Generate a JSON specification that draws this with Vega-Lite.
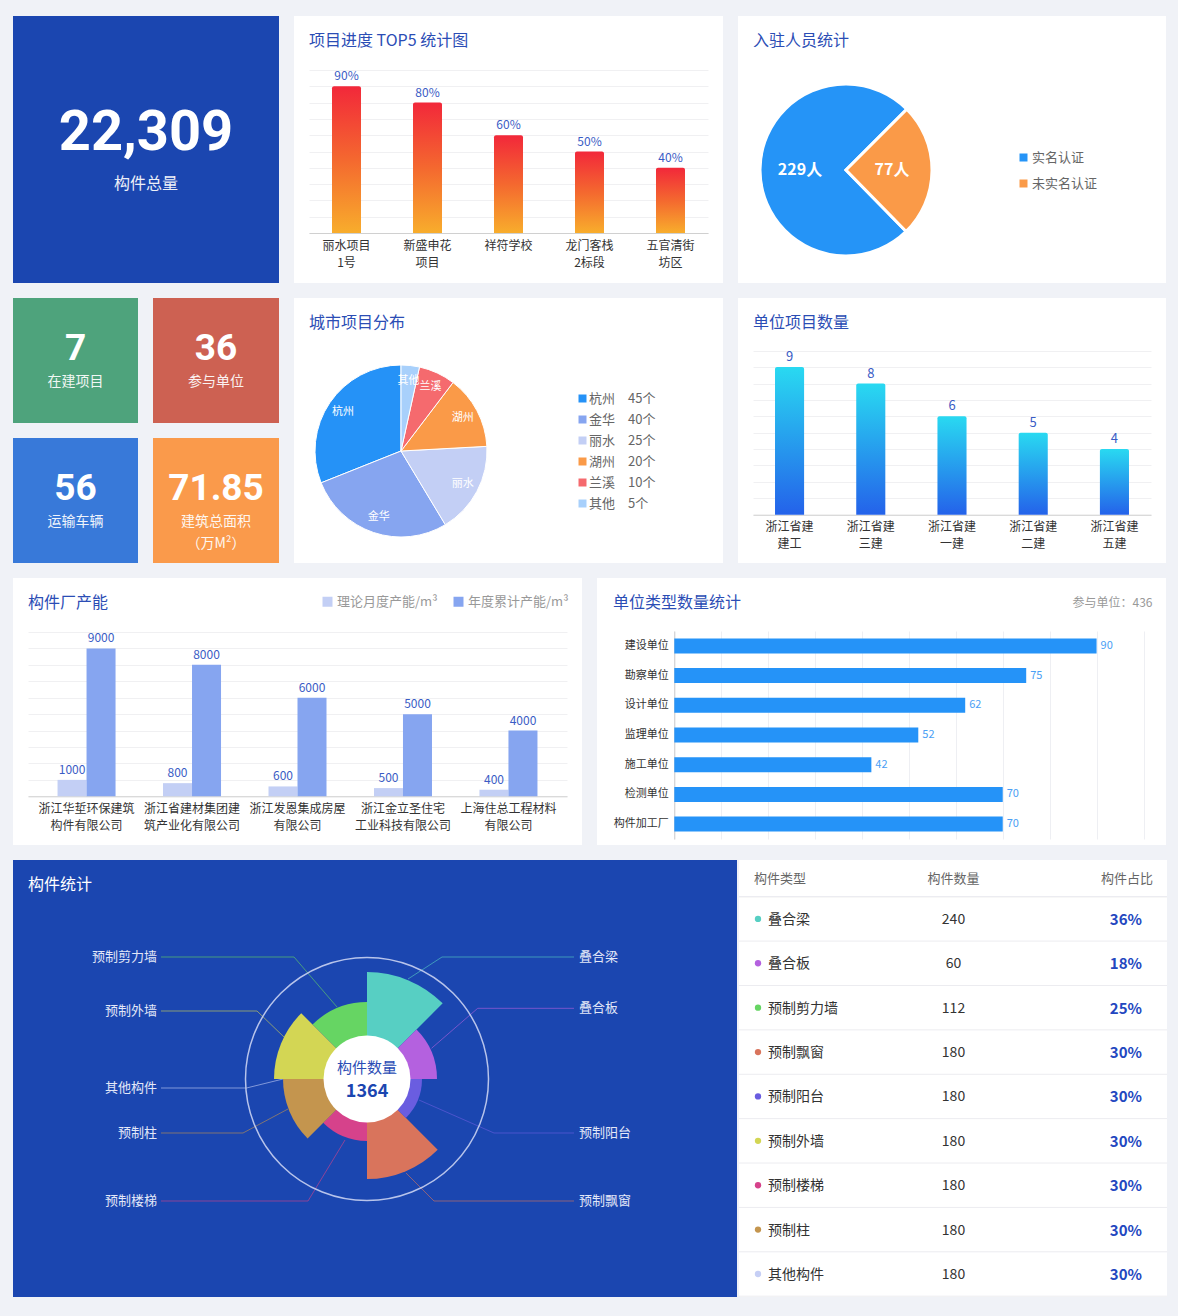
{
"$schema": "https://vega.github.io/schema/vega-lite/v6.json",
"background": "#f0f2f7",
"padding": {"left": 13, "top": 16, "right": 12, "bottom": 19},
"config": {
  "font": "Noto Sans CJK SC",
  "view": {"stroke": null},
  "title": {"anchor": "start", "frame": "group", "fontSize": 16, "fontWeight": "normal", "color": "#2b4db5", "dx": 15, "offset": -33}
},
"datasets": {
  "parts": [
    {"type": "叠合梁", "count": 240, "pct": 0.36, "rose": 107, "span": 1, "roseSeq": 1},
    {"type": "叠合板", "count": 60, "pct": 0.18, "rose": 70, "span": 1, "roseSeq": 2},
    {"type": "预制剪力墙", "count": 112, "pct": 0.25, "rose": 77, "span": 1, "roseSeq": 9},
    {"type": "预制飘窗", "count": 180, "pct": 0.30, "rose": 100, "span": 1, "roseSeq": 4},
    {"type": "预制阳台", "count": 180, "pct": 0.30, "rose": 55, "span": 1, "roseSeq": 3},
    {"type": "预制外墙", "count": 180, "pct": 0.30, "rose": 93, "span": 1, "roseSeq": 8},
    {"type": "预制楼梯", "count": 180, "pct": 0.30, "rose": 62, "span": 1, "roseSeq": 5},
    {"type": "预制柱", "count": 180, "pct": 0.30, "rose": 84, "span": 1, "roseSeq": 6},
    {"type": "其他构件", "count": 180, "pct": 0.30, "rose": 40, "span": 0, "roseSeq": 7}
  ],
  "leaders": [
    {"type": "叠合梁", "step": 1, "x": 41, "y": 100},
    {"type": "叠合梁", "step": 2, "x": 75, "y": 122},
    {"type": "叠合梁", "step": 3, "x": 207, "y": 122},
    {"type": "叠合板", "step": 1, "x": 64.5, "y": 30.7},
    {"type": "叠合板", "step": 2, "x": 110.7, "y": 70.7},
    {"type": "叠合板", "step": 3, "x": 207, "y": 70.7},
    {"type": "预制阳台", "step": 1, "x": 52, "y": -21},
    {"type": "预制阳台", "step": 2, "x": 127, "y": -54},
    {"type": "预制阳台", "step": 3, "x": 207, "y": -54},
    {"type": "预制飘窗", "step": 1, "x": 39, "y": -94},
    {"type": "预制飘窗", "step": 2, "x": 67, "y": -122},
    {"type": "预制飘窗", "step": 3, "x": 207, "y": -122},
    {"type": "预制楼梯", "step": 1, "x": -22, "y": -61},
    {"type": "预制楼梯", "step": 2, "x": -59, "y": -122},
    {"type": "预制楼梯", "step": 3, "x": -206, "y": -122},
    {"type": "预制柱", "step": 1, "x": -79, "y": -30},
    {"type": "预制柱", "step": 2, "x": -124, "y": -54},
    {"type": "预制柱", "step": 3, "x": -206, "y": -54},
    {"type": "其他构件", "step": 1, "x": -84, "y": 0},
    {"type": "其他构件", "step": 2, "x": -120.5, "y": -9},
    {"type": "其他构件", "step": 3, "x": -206, "y": -9},
    {"type": "预制外墙", "step": 1, "x": -82, "y": 41},
    {"type": "预制外墙", "step": 2, "x": -110, "y": 68},
    {"type": "预制外墙", "step": 3, "x": -206, "y": 68},
    {"type": "预制剪力墙", "step": 1, "x": -30, "y": 72},
    {"type": "预制剪力墙", "step": 2, "x": -73, "y": 122},
    {"type": "预制剪力墙", "step": 3, "x": -206, "y": 122}
  ]
},
"spacing": 15,
"resolve": {"scale": {"color": "independent"}, "legend": {"color": "independent"}},
"vconcat": [
  {
    "spacing": 15,
    "resolve": {"scale": {"color": "independent"}, "legend": {"color": "independent"}},
    "hconcat": [
      {
        "width": 266, "height": 267,
        "view": {"fill": "#1b46b0", "stroke": null},
        "data": {"values": [{"kpi": "构件总量", "value": 22309}]},
        "layer": [
          {"mark": {"type": "text", "font": "Roboto", "fontSize": 56, "fontWeight": "bold", "color": "#ffffff", "dy": -16.5},
           "encoding": {"text": {"field": "value", "type": "quantitative", "format": ","}}},
          {"mark": {"type": "text", "fontSize": 16, "color": "#ffffff", "opacity": 0.92, "dy": 34},
           "encoding": {"text": {"field": "kpi", "type": "nominal"}}}
        ]
      },
      {
        "width": 429, "height": 267,
        "view": {"fill": "#ffffff", "stroke": null},
        "title": {"text": "项目进度 TOP5 统计图"},
        "data": {"values": [
          {"project": "丽水项目\n1号", "progress": 0.9},
          {"project": "新盛申花\n项目", "progress": 0.8},
          {"project": "祥符学校", "progress": 0.6},
          {"project": "龙门客栈\n2标段", "progress": 0.5},
          {"project": "五官清街\n坊区", "progress": 0.4}
        ]},
        "encoding": {
          "x": {"field": "project", "type": "nominal", "sort": null,
            "scale": {"range": [15, 414], "paddingInner": 0.642, "paddingOuter": 0.284},
            "axis": {"title": null, "labelAngle": 0, "offset": -50, "ticks": false, "domainColor": "#d0d0d0", "labelPadding": 7, "labelFontSize": 12, "labelColor": "#333333", "labelLineHeight": 17, "labelBaseline": "top", "labelExpr": "split(datum.label, '\\n')", "grid": false}},
          "y": {"field": "progress", "type": "quantitative",
            "scale": {"domain": [0, 1], "range": [217, 54], "nice": false, "zero": false},
            "axis": {"title": null, "labels": false, "ticks": false, "domain": false, "values": [0, 0.1, 0.2, 0.3, 0.4, 0.5, 0.6, 0.7, 0.8, 0.9, 1], "gridColor": "#f0f0f2"}}
        },
        "layer": [
          {"mark": {"type": "bar", "cornerRadiusTopLeft": 2, "cornerRadiusTopRight": 2,
            "color": {"gradient": "linear", "x1": 0, "y1": 0, "x2": 0, "y2": 1, "stops": [{"offset": 0, "color": "#f2283a"}, {"offset": 0.5, "color": "#f4682f"}, {"offset": 1, "color": "#f8ad2c"}]}},
           "encoding": {"y2": {"datum": 0}}},
          {"mark": {"type": "text", "baseline": "bottom", "dy": -3, "fontSize": 12, "color": "#3a5cc5"},
           "encoding": {"text": {"field": "progress", "type": "quantitative", "format": ".0%"}}}
        ]
      },
      {
        "width": 428, "height": 267,
        "view": {"fill": "#ffffff", "stroke": null},
        "title": {"text": "入驻人员统计"},
        "data": {"values": [
          {"status": "实名认证", "count": 229},
          {"status": "未实名认证", "count": 77}
        ]},
        "encoding": {
          "x": {"datum": 0, "type": "quantitative", "scale": {"domain": [-108, 320], "nice": false, "zero": false}, "axis": null},
          "y": {"datum": 0, "type": "quantitative", "scale": {"domain": [-113, 154], "nice": false, "zero": false}, "axis": null},
          "theta": {"field": "count", "type": "quantitative", "stack": true, "scale": {"range": [0.7854, 7.0686]}},
          "order": {"field": "count", "type": "quantitative", "sort": "ascending"}
        },
        "layer": [
          {"mark": {"type": "arc", "radius": 86, "stroke": "#ffffff", "strokeWidth": 3},
           "encoding": {"color": {"field": "status", "type": "nominal",
             "scale": {"domain": ["实名认证", "未实名认证"], "range": ["#2594f7", "#fa9a48"]},
             "legend": {"title": null, "orient": "none", "legendX": 279, "legendY": 135, "symbolType": "square", "symbolSize": 64, "symbolStrokeWidth": 0, "labelFontSize": 13, "labelColor": "#666666", "labelOffset": 2, "rowPadding": 12}}}},
          {"mark": {"type": "text", "radius": 46, "fontSize": 16, "fontWeight": "bold", "color": "#ffffff", "text": {"expr": "datum.count + '人'"}}}
        ]
      }
    ]
  },
  {
    "spacing": 15,
    "resolve": {"scale": {"color": "independent"}, "legend": {"color": "independent"}},
    "hconcat": [
      {
        "spacing": 15,
        "vconcat": [
          {
            "spacing": 15,
            "hconcat": [
              {
                "width": 125, "height": 125,
                "view": {"fill": "#4ea37c", "stroke": null},
                "data": {"values": [{"kpi": "在建项目", "value": 7}]},
                "layer": [
                  {"mark": {"type": "text", "font": "Roboto", "fontSize": 37, "fontWeight": "bold", "color": "#ffffff", "dy": -11.5},
                   "encoding": {"text": {"field": "value", "type": "nominal"}}},
                  {"mark": {"type": "text", "fontSize": 14, "color": "#ffffff", "opacity": 0.92, "dy": 21.5},
                   "encoding": {"text": {"field": "kpi", "type": "nominal"}}}
                ]
              },
              {
                "width": 126, "height": 125,
                "view": {"fill": "#cd6152", "stroke": null},
                "data": {"values": [{"kpi": "参与单位", "value": 36}]},
                "layer": [
                  {"mark": {"type": "text", "font": "Roboto", "fontSize": 37, "fontWeight": "bold", "color": "#ffffff", "dy": -11.5},
                   "encoding": {"text": {"field": "value", "type": "nominal"}}},
                  {"mark": {"type": "text", "fontSize": 14, "color": "#ffffff", "opacity": 0.92, "dy": 21.5},
                   "encoding": {"text": {"field": "kpi", "type": "nominal"}}}
                ]
              }
            ]
          },
          {
            "spacing": 15,
            "hconcat": [
              {
                "width": 125, "height": 125,
                "view": {"fill": "#3879d9", "stroke": null},
                "data": {"values": [{"kpi": "运输车辆", "value": 56}]},
                "layer": [
                  {"mark": {"type": "text", "font": "Roboto", "fontSize": 37, "fontWeight": "bold", "color": "#ffffff", "dy": -11.5},
                   "encoding": {"text": {"field": "value", "type": "nominal"}}},
                  {"mark": {"type": "text", "fontSize": 14, "color": "#ffffff", "opacity": 0.92, "dy": 21.5},
                   "encoding": {"text": {"field": "kpi", "type": "nominal"}}}
                ]
              },
              {
                "width": 126, "height": 125,
                "view": {"fill": "#fa9a4b", "stroke": null},
                "data": {"values": [{"kpi": "建筑总面积", "unit": "（万M²）", "value": 71.85}]},
                "layer": [
                  {"mark": {"type": "text", "font": "Roboto", "fontSize": 37, "fontWeight": "bold", "color": "#ffffff", "dy": -11.5},
                   "encoding": {"text": {"field": "value", "type": "nominal"}}},
                  {"mark": {"type": "text", "fontSize": 14, "color": "#ffffff", "opacity": 0.92, "dy": 21.5},
                   "encoding": {"text": {"field": "kpi", "type": "nominal"}}},
                  {"mark": {"type": "text", "fontSize": 14, "color": "#ffffff", "opacity": 0.92, "dy": 43.5},
                   "encoding": {"text": {"field": "unit", "type": "nominal"}}}
                ]
              }
            ]
          }
        ]
      },
      {
        "width": 429, "height": 265,
        "view": {"fill": "#ffffff", "stroke": null},
        "title": {"text": "城市项目分布"},
        "data": {"values": [
          {"city": "杭州", "count": 45},
          {"city": "金华", "count": 40},
          {"city": "丽水", "count": 25},
          {"city": "湖州", "count": 20},
          {"city": "兰溪", "count": 10},
          {"city": "其他", "count": 5}
        ]},
        "encoding": {
          "x": {"datum": 0, "type": "quantitative", "scale": {"domain": [-107, 322], "nice": false, "zero": false}, "axis": null},
          "y": {"datum": 0, "type": "quantitative", "scale": {"domain": [-112, 153], "nice": false, "zero": false}, "axis": null},
          "theta": {"field": "count", "type": "quantitative", "stack": true},
          "order": {"field": "count", "type": "quantitative", "sort": "ascending"}
        },
        "layer": [
          {"mark": {"type": "arc", "radius": 86, "stroke": "#ffffff", "strokeWidth": 1},
           "encoding": {"color": {"field": "city", "type": "nominal",
             "scale": {"domain": ["杭州", "金华", "丽水", "湖州", "兰溪", "其他"], "range": ["#2592f7", "#86a5f0", "#c3cff5", "#fa9a48", "#f56a6e", "#a8d0fb"]},
             "legend": {"title": null, "orient": "none", "legendX": 282, "legendY": 94, "symbolType": "square", "symbolSize": 64, "symbolStrokeWidth": 0, "labelFontSize": 13, "labelColor": "#666666", "labelOffset": 0, "rowPadding": 7,
               "labelExpr": "datum.label + '\u3000' + (datum.label == '杭州' ? '45个' : datum.label == '金华' ? '40个' : datum.label == '丽水' ? '25个' : datum.label == '湖州' ? '20个' : datum.label == '兰溪' ? '10个' : '5个')"}}}},
          {"mark": {"type": "text", "radius": 70, "fontSize": 11, "color": "#ffffff"},
           "encoding": {"text": {"field": "city", "type": "nominal"}}}
        ]
      },
      {
        "width": 428, "height": 265,
        "view": {"fill": "#ffffff", "stroke": null},
        "title": {"text": "单位项目数量"},
        "data": {"values": [
          {"unit": "浙江省建\n建工", "projects": 9},
          {"unit": "浙江省建\n三建", "projects": 8},
          {"unit": "浙江省建\n一建", "projects": 6},
          {"unit": "浙江省建\n二建", "projects": 5},
          {"unit": "浙江省建\n五建", "projects": 4}
        ]},
        "encoding": {
          "x": {"field": "unit", "type": "nominal", "sort": null,
            "scale": {"range": [15, 413], "paddingInner": 0.642, "paddingOuter": 0.271},
            "axis": {"title": null, "labelAngle": 0, "offset": -48.3, "ticks": false, "domainColor": "#d0d0d0", "labelPadding": 7, "labelFontSize": 12, "labelColor": "#333333", "labelLineHeight": 17, "labelBaseline": "top", "labelExpr": "split(datum.label, '\\n')", "grid": false}},
          "y": {"field": "projects", "type": "quantitative",
            "scale": {"domain": [0, 10], "range": [216.7, 52.7], "nice": false, "zero": false},
            "axis": {"title": null, "labels": false, "ticks": false, "domain": false, "values": [0, 1, 2, 3, 4, 5, 6, 7, 8, 9, 10], "gridColor": "#f0f0f2"}}
        },
        "layer": [
          {"mark": {"type": "bar", "cornerRadiusTopLeft": 2, "cornerRadiusTopRight": 2,
            "color": {"gradient": "linear", "x1": 0, "y1": 0, "x2": 0, "y2": 1, "stops": [{"offset": 0, "color": "#29d9f1"}, {"offset": 1, "color": "#2462ea"}]}},
           "encoding": {"y2": {"datum": 0}}},
          {"mark": {"type": "text", "baseline": "bottom", "dy": -3, "fontSize": 13, "color": "#3a5cc5"},
           "encoding": {"text": {"field": "projects", "type": "quantitative"}}}
        ]
      }
    ]
  },
  {
    "spacing": 15,
    "resolve": {"scale": {"color": "independent"}, "legend": {"color": "independent"}},
    "hconcat": [
      {
        "width": 569, "height": 267,
        "view": {"fill": "#ffffff", "stroke": null},
        "title": {"text": "构件厂产能"},
        "data": {"values": [
          {"company": "浙江华埑环保建筑\n构件有限公司", "series": "理论月度产能/m³", "value": 1000},
          {"company": "浙江华埑环保建筑\n构件有限公司", "series": "年度累计产能/m³", "value": 9000},
          {"company": "浙江省建材集团建\n筑产业化有限公司", "series": "理论月度产能/m³", "value": 800},
          {"company": "浙江省建材集团建\n筑产业化有限公司", "series": "年度累计产能/m³", "value": 8000},
          {"company": "浙江发恩集成房屋\n有限公司", "series": "理论月度产能/m³", "value": 600},
          {"company": "浙江发恩集成房屋\n有限公司", "series": "年度累计产能/m³", "value": 6000},
          {"company": "浙江金立圣住宅\n工业科技有限公司", "series": "理论月度产能/m³", "value": 500},
          {"company": "浙江金立圣住宅\n工业科技有限公司", "series": "年度累计产能/m³", "value": 5000},
          {"company": "上海住总工程材料\n有限公司", "series": "理论月度产能/m³", "value": 400},
          {"company": "上海住总工程材料\n有限公司", "series": "年度累计产能/m³", "value": 4000}
        ]},
        "encoding": {
          "x": {"field": "company", "type": "nominal", "sort": null,
            "scale": {"range": [15, 554], "paddingInner": 0.45, "paddingOuter": 0.28},
            "axis": {"title": null, "labelAngle": 0, "offset": -48.7, "ticks": false, "domainColor": "#d0d0d0", "labelPadding": 7, "labelFontSize": 12, "labelColor": "#333333", "labelLineHeight": 17, "labelBaseline": "top", "labelExpr": "split(datum.label, '\\n')", "grid": false}},
          "xOffset": {"field": "series", "type": "nominal", "scale": {"domain": ["理论月度产能/m³", "年度累计产能/m³"], "paddingInner": 0, "paddingOuter": 0}},
          "y": {"field": "value", "type": "quantitative",
            "scale": {"domain": [0, 10000], "range": [218.3, 54], "nice": false, "zero": false},
            "axis": {"title": null, "labels": false, "ticks": false, "domain": false, "values": [0, 1000, 2000, 3000, 4000, 5000, 6000, 7000, 8000, 9000, 10000], "gridColor": "#f0f0f2"}}
        },
        "layer": [
          {"mark": {"type": "bar"},
           "encoding": {"y2": {"datum": 0},
             "color": {"field": "series", "type": "nominal",
               "scale": {"domain": ["理论月度产能/m³", "年度累计产能/m³"], "range": ["#c3cff5", "#86a5f0"]},
               "legend": {"title": null, "orient": "none", "direction": "horizontal", "legendX": 308, "legendY": 17, "symbolType": "square", "symbolSize": 100, "symbolStrokeWidth": 0, "labelFontSize": 13, "labelColor": "#999999", "labelOffset": 3, "columnPadding": 14}}}},
          {"mark": {"type": "text", "baseline": "bottom", "dy": -3, "fontSize": 12, "color": "#3a5cc5"},
           "encoding": {"text": {"field": "value", "type": "quantitative"}}}
        ]
      },
      {
        "width": 569, "height": 267,
        "view": {"fill": "#ffffff", "stroke": null},
        "title": {"text": "单位类型数量统计", "dx": 16},
        "data": {"values": [
          {"type": "建设单位", "count": 90},
          {"type": "勘察单位", "count": 75},
          {"type": "设计单位", "count": 62},
          {"type": "监理单位", "count": 52},
          {"type": "施工单位", "count": 42},
          {"type": "检测单位", "count": 70},
          {"type": "构件加工厂", "count": 70}
        ]},
        "encoding": {
          "y": {"field": "type", "type": "nominal", "sort": null,
            "scale": {"range": [53, 261], "paddingInner": 0.495, "paddingOuter": 0.249},
            "axis": {"title": null, "orient": "left", "offset": -77.3, "ticks": false, "domainColor": "#cccccc", "labelPadding": 6, "labelFontSize": 11, "labelColor": "#333333", "grid": false}},
          "x": {"field": "count", "type": "quantitative",
            "scale": {"domain": [0, 100], "range": [77.3, 546.5], "nice": false, "zero": false},
            "axis": {"orient": "top", "labels": false, "ticks": false, "domain": false, "values": [0, 10, 20, 30, 40, 50, 60, 70, 80, 90, 100], "gridColor": "#eeeff3",
              "title": "参与单位：436", "titleX": 555, "titleY": 24, "titleAlign": "right", "titleAnchor": "end", "titleBaseline": "middle", "titleFontSize": 12, "titleFontWeight": "normal", "titleColor": "#999999"}}
        },
        "layer": [
          {"mark": {"type": "bar", "color": "#2593f8"}, "encoding": {"x2": {"datum": 0}}},
          {"mark": {"type": "text", "align": "left", "dx": 4, "fontSize": 11, "color": "#4aa0f5"},
           "encoding": {"text": {"field": "count", "type": "quantitative"}}}
        ]
      }
    ]
  },
  {
    "spacing": 1,
    "resolve": {"scale": {"color": "independent"}, "legend": {"color": "independent"}},
    "hconcat": [
      {
        "width": 724, "height": 437,
        "view": {"fill": "#1b46b0", "stroke": null},
        "title": {"text": "构件统计", "color": "#ffffff"},
        "layer": [
          {"data": {"name": "leaders"},
           "mark": {"type": "line", "strokeWidth": 1, "opacity": 0.6},
           "encoding": {
             "x": {"field": "x", "type": "quantitative", "scale": {"domain": [-354, 370], "nice": false, "zero": false}, "axis": null},
             "y": {"field": "y", "type": "quantitative", "scale": {"domain": [-218, 219], "nice": false, "zero": false}, "axis": null},
             "order": {"field": "step", "type": "quantitative"},
             "color": {"field": "type", "type": "nominal", "legend": null,
               "scale": {"domain": ["叠合梁", "叠合板", "预制剪力墙", "预制飘窗", "预制阳台", "预制外墙", "预制楼梯", "预制柱", "其他构件"], "range": ["#57cfc3", "#b461df", "#66d563", "#d9745c", "#6a5de0", "#d3d654", "#d6428b", "#c4954e", "#c6cff5"]}}}},
          {"data": {"values": [{"ring": "outer"}]},
           "mark": {"type": "point", "shape": "circle", "size": 59049, "filled": false, "stroke": "#c9d2f2", "strokeWidth": 1.5, "opacity": 0.9},
           "encoding": {
             "x": {"datum": 0, "type": "quantitative"},
             "y": {"datum": 0, "type": "quantitative"}}},
          {"data": {"name": "parts"},
           "transform": [{"stack": "span", "groupby": [], "sort": [{"field": "roseSeq", "order": "ascending"}], "as": ["a0", "a1"]}],
           "mark": {"type": "arc"},
           "encoding": {
             "x": {"datum": 0, "type": "quantitative"},
             "y": {"datum": 0, "type": "quantitative"},
             "theta": {"field": "a0", "type": "quantitative", "stack": null, "scale": {"domain": [0, 8], "nice": false}},
             "theta2": {"field": "a1"},
             "radius": {"field": "rose", "type": "quantitative", "scale": {"type": "linear", "domain": [0, 121.5], "range": [0, 121.5], "zero": true}},
             "color": {"field": "type", "type": "nominal", "legend": null,
               "scale": {"domain": ["叠合梁", "叠合板", "预制剪力墙", "预制飘窗", "预制阳台", "预制外墙", "预制楼梯", "预制柱", "其他构件"], "range": ["#57cfc3", "#b461df", "#66d563", "#d9745c", "#6a5de0", "#d3d654", "#d6428b", "#c4954e", "#c6cff5"]}}}},
          {"data": {"values": [{"label": "构件数量", "total": 1364}]},
           "layer": [
             {"mark": {"type": "point", "shape": "circle", "size": 7569, "filled": true, "color": "#ffffff", "opacity": 1},
              "encoding": {"x": {"datum": 0, "type": "quantitative"}, "y": {"datum": 0, "type": "quantitative"}}},
             {"mark": {"type": "text", "fontSize": 15, "color": "#2b4db5", "dy": -11},
              "encoding": {"x": {"datum": 0, "type": "quantitative"}, "y": {"datum": 0, "type": "quantitative"}, "text": {"field": "label", "type": "nominal"}}},
             {"mark": {"type": "text", "fontSize": 18, "fontWeight": "bold", "color": "#1b46b0", "dy": 13},
              "encoding": {"x": {"datum": 0, "type": "quantitative"}, "y": {"datum": 0, "type": "quantitative"}, "text": {"field": "total", "type": "nominal"}}}
           ]},
          {"data": {"name": "leaders"},
           "transform": [{"filter": "datum.step == 3 && datum.x < 0"}],
           "mark": {"type": "text", "align": "right", "dx": -4, "fontSize": 13, "color": "#e3e8f8"},
           "encoding": {"x": {"field": "x", "type": "quantitative"}, "y": {"field": "y", "type": "quantitative"}, "text": {"field": "type", "type": "nominal"}}},
          {"data": {"name": "leaders"},
           "transform": [{"filter": "datum.step == 3 && datum.x > 0"}],
           "mark": {"type": "text", "align": "left", "dx": 5, "fontSize": 13, "color": "#e3e8f8"},
           "encoding": {"x": {"field": "x", "type": "quantitative"}, "y": {"field": "y", "type": "quantitative"}, "text": {"field": "type", "type": "nominal"}}}
        ]
      },
      {
        "width": 428, "height": 437,
        "view": {"fill": "#ffffff", "stroke": null},
        "layer": [
          {"data": {"name": "parts"},
           "encoding": {
             "y": {"field": "type", "type": "nominal", "axis": null,
               "scale": {"type": "point", "domain": ["表头", "叠合梁", "叠合板", "预制剪力墙", "预制飘窗", "预制阳台", "预制外墙", "预制楼梯", "预制柱", "其他构件"], "range": [14.5, 414], "padding": 0}}
           },
           "layer": [
             {"mark": {"type": "rule", "yOffset": 22.2, "color": "#ececf0", "strokeWidth": 1}},
             {"mark": {"type": "point", "filled": true, "size": 40, "xOffset": 4, "opacity": 1},
              "encoding": {
                "x": {"datum": "构件类型", "type": "nominal", "axis": null,
                  "scale": {"type": "point", "domain": ["构件类型", "构件数量", "构件占比"], "range": [15, 414], "padding": 0}},
                "color": {"field": "type", "type": "nominal", "legend": null,
                  "scale": {"domain": ["叠合梁", "叠合板", "预制剪力墙", "预制飘窗", "预制阳台", "预制外墙", "预制楼梯", "预制柱", "其他构件"], "range": ["#57cfc3", "#b461df", "#66d563", "#d9745c", "#6a5de0", "#d3d654", "#d6428b", "#c4954e", "#c6cff5"]}}}},
             {"mark": {"type": "text", "align": "left", "dx": 14, "dy": 1, "fontSize": 14, "color": "#333333"},
              "encoding": {"x": {"datum": "构件类型", "type": "nominal"}, "text": {"field": "type", "type": "nominal"}}},
             {"mark": {"type": "text", "align": "center", "dy": 1, "fontSize": 14, "color": "#333333"},
              "encoding": {"x": {"datum": "构件数量", "type": "nominal"}, "text": {"field": "count", "type": "nominal"}}},
             {"mark": {"type": "text", "align": "right", "dx": -11, "dy": 1, "fontSize": 15, "fontWeight": "bold", "color": "#2347c0"},
              "encoding": {"x": {"datum": "构件占比", "type": "nominal"}, "text": {"field": "pct", "type": "quantitative", "format": ".0%"}}}
           ]},
          {"data": {"values": [{"col": "构件类型"}, {"col": "构件数量"}, {"col": "构件占比"}]},
           "encoding": {
             "y": {"datum": "表头", "type": "nominal",
               "scale": {"type": "point", "domain": ["表头", "叠合梁", "叠合板", "预制剪力墙", "预制飘窗", "预制阳台", "预制外墙", "预制楼梯", "预制柱", "其他构件"], "range": [14.5, 414], "padding": 0}}
           },
           "layer": [
             {"mark": {"type": "rule", "yOffset": 22.2, "color": "#ececf0", "strokeWidth": 1}},
             {"mark": {"type": "text", "dy": 4.5, "fontSize": 13, "color": "#666666",
                "align": {"expr": "datum.col == '构件类型' ? 'left' : datum.col == '构件数量' ? 'center' : 'right'"}},
              "encoding": {"x": {"field": "col", "type": "nominal"}, "text": {"field": "col", "type": "nominal"}}}
           ]}
        ]
      }
    ]
  }
]
}
